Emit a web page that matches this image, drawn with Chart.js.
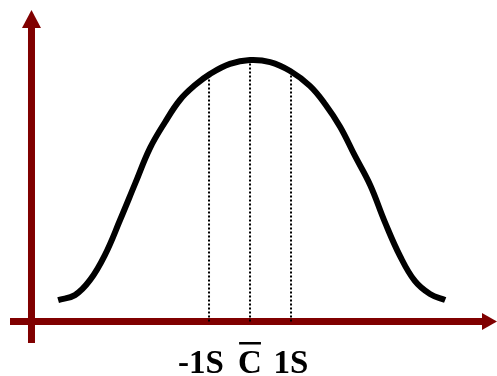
<!DOCTYPE html>
<html>
<head>
<meta charset="utf-8">
<script src="https://cdn.jsdelivr.net/npm/chart.js@4"></script>
<style>
  html, body { margin: 0; padding: 0; background: #fff; }
  canvas { display: block; }
</style>
</head>
<body>
<canvas id="bellChart" width="497" height="376"></canvas>
<script>
// curve points, x in units of S from the mean, y as % of peak height
const curveX = [-4.68, -4.27, -3.90, -3.54, -3.17, -2.80, -2.44, -2.07, -1.71, -1.34,
                -0.98, -0.49, 0, 0.49, 0.98, 1.46, 1.83, 2.20, 2.56, 2.93,
                3.29, 3.66, 4.02, 4.39, 4.76];
const curveY = [8.2, 10.1, 15.9, 25.4, 38.8, 52.8, 66.3, 76.3, 84.7, 90.4,
                94.6, 98.5, 100, 99.2, 95.8, 90.1, 83.2, 74.4, 63.3, 52.2,
                38.0, 25.0, 15.5, 10.5, 8.2];

// dotted guide lines
const guideX = [-1, 0, 1];
const guideTop = [94.6, 100, 95.8];
const tickLabels = ['-1S', 'C', '1S'];

const axisColor = '#800000';

const curvePoints = curveX.map(function(x, i) { return {x: x, y: curveY[i]}; });

const datasets = [{
    data: curvePoints,
    borderColor: '#000',
    borderWidth: 6,
    borderCapStyle: 'butt',
    pointRadius: 0,
    tension: 0.4,
    order: 0
}];
for (let i = 0; i < guideX.length; i++) {
    datasets.push({
        data: [{x: guideX[i], y: 0}, {x: guideX[i], y: guideTop[i]}],
        borderColor: '#000',
        borderWidth: 2,
        borderDash: [2, 2],
        pointRadius: 0,
        order: 1
    });
}

// axes with arrows + labels under the x axis
const axesPlugin = {
    id: 'axesPlugin',
    beforeDatasetsDraw(chart) {
        const ctx = chart.ctx;
        const xs = chart.scales.x, ys = chart.scales.y;
        const y0 = ys.getPixelForValue(0);
        const vx = xs.getPixelForValue(-5.33);
        ctx.save();
        ctx.fillStyle = axisColor;
        // horizontal axis
        ctx.fillRect(10, y0 - 3.5, 473, 7);
        ctx.beginPath();
        ctx.moveTo(482, y0 - 8.5);
        ctx.lineTo(497, y0);
        ctx.lineTo(482, y0 + 8.5);
        ctx.closePath();
        ctx.fill();
        // vertical axis
        ctx.fillRect(vx - 3.5, 27, 7, 316);
        ctx.beginPath();
        ctx.moveTo(vx - 9.5, 28);
        ctx.lineTo(vx, 10);
        ctx.lineTo(vx + 9.5, 28);
        ctx.closePath();
        ctx.fill();
        ctx.restore();
    },
    afterDraw(chart) {
        const ctx = chart.ctx;
        const xs = chart.scales.x;
        ctx.save();
        ctx.fillStyle = '#000';
        ctx.font = 'bold 33px "Liberation Serif", "Times New Roman", serif';
        ctx.textAlign = 'center';
        ctx.textBaseline = 'alphabetic';
        const shift = [-8, 0, 0];
        for (let i = 0; i < tickLabels.length; i++) {
            const px = xs.getPixelForValue(guideX[i]) + shift[i];
            ctx.fillText(tickLabels[i], px, 373);
            if (tickLabels[i] === 'C') {
                const w = ctx.measureText('C').width;
                ctx.fillRect(px - w / 2 + 1, 342, w - 2, 2.5);
            }
        }
        ctx.restore();
    }
};

const config = {
    type: 'line',
    data: { datasets: datasets },
    options: {
        responsive: false,
        animation: false,
        devicePixelRatio: 1,
        layout: { padding: 0 },
        plugins: { legend: { display: false }, tooltip: { enabled: false } },
        scales: {
            x: { type: 'linear', min: -6.098, max: 6.024, display: false },
            y: { type: 'linear', min: -20.84, max: 122.94, display: false }
        }
    },
    plugins: [axesPlugin]
};

const myBellChart = new Chart(document.getElementById('bellChart'), config);
</script>
</body>
</html>
